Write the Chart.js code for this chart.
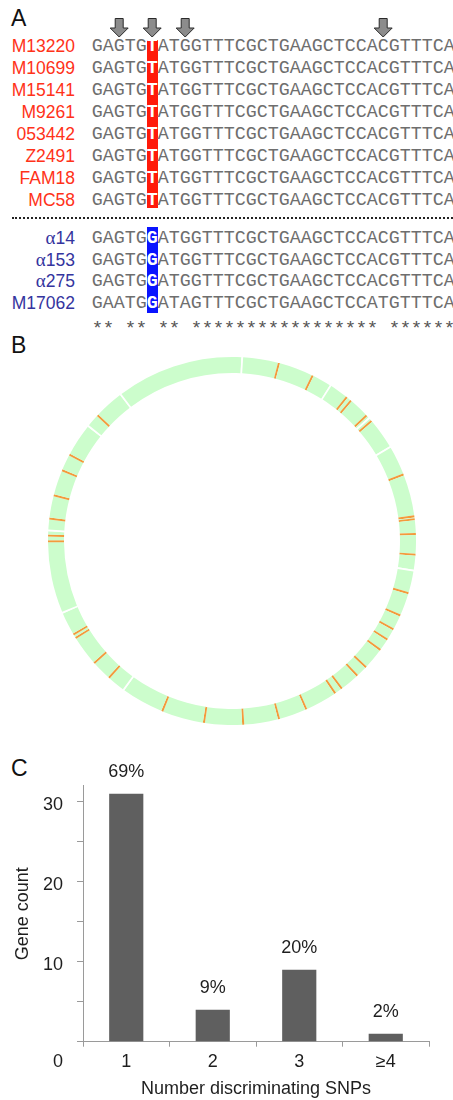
<!DOCTYPE html>
<html>
<head>
<meta charset="utf-8">
<script src="https://cdn.jsdelivr.net/npm/chart.js@4.4.1/dist/chart.umd.min.js"></script>
<style>
  html, body { margin: 0; padding: 0; background: #fff; }
  body { width: 453px; height: 1100px; position: relative; overflow: hidden;
         font-family: "Liberation Sans", Arial, sans-serif; }
  .panel-label { position: absolute; left: 11px; font-size: 23px; line-height: 1; color: #111; }
  .name { position: absolute; right: 378px; font-size: 17.5px; line-height: 22px; white-space: nowrap; }
  .name .greek { font-family: "Liberation Serif", "DejaVu Serif", serif; font-size: 19px; }
  .seq { position: absolute; left: 91.7px; font-family: "Liberation Mono", "Courier New", monospace;
         font-size: 18.33px; line-height: 22px; color: #6e6e6e; white-space: pre; }
  .seq b { color: #fff; }
  .stars { color: #555; top: 318px; font-size: 19px; letter-spacing: -0.4px; }
  .hl { position: absolute; width: 11px; }
  .dotted { position: absolute; left: 12px; right: 0; top: 217px; border-top: 2px dotted #222; }
  canvas { position: absolute; }
</style>
</head>
<body>
<div class="panel-label" style="top:7px">A</div>
<div class="panel-label" style="top:334px">B</div>
<div class="panel-label" style="top:757px">C</div>
<div id="align"></div>
<div class="dotted"></div>
<canvas id="ring" width="368" height="368" style="left:48px; top:357px"></canvas>
<canvas id="bars" width="453" height="370" style="left:0; top:730px"></canvas>

<script>
// ---- Panel A: alignment around the discriminating SNP ----
const redStrains = ['M13220', 'M10699', 'M15141', 'M9261', '053442', 'Z2491', 'FAM18', 'MC58'];
const redSeqs = [
  'GAGTGTATGGTTTCGCTGAAGCTCCACGTTTCA',
  'GAGTGTATGGTTTCGCTGAAGCTCCACGTTTCA',
  'GAGTGTATGGTTTCGCTGAAGCTCCACGTTTCA',
  'GAGTGTATGGTTTCGCTGAAGCTCCACGTTTCA',
  'GAGTGTATGGTTTCGCTGAAGCTCCACGTTTCA',
  'GAGTGTATGGTTTCGCTGAAGCTCCACGTTTCA',
  'GAGTGTATGGTTTCGCTGAAGCTCCACGTTTCA',
  'GAGTGTATGGTTTCGCTGAAGCTCCACGTTTCA'
];
const blueStrains = ['α14', 'α153', 'α275', 'M17062'];
const blueSeqs = [
  'GAGTGGATGGTTTCGCTGAAGCTCCACGTTTCA',
  'GAGTGGATGGTTTCGCTGAAGCTCCACGTTTCA',
  'GAGTGGATGGTTTCGCTGAAGCTCCACGTTTCA',
  'GAATGGATAGTTTCGCTGAAGCTCCATGTTTCA'
];
const snpColumn = 5;

// ---- Panel B: genome ring, positions in degrees clockwise from the origin ----
const snpAngles = [14.8, 26.0, 38.6, 40.3, 47.0, 49.3, 68.8, 82.3, 83.2, 87.8, 94.3, 106.5,
  113.9, 118.7, 122.4, 126.3, 133.3, 137.1, 143.4, 145.9, 156.2, 165.2, 176.5, 188.8,
  202.3, 222.0, 228.5, 238.2, 239.5, 269.9, 271.7, 277.0, 284.4, 292.6, 298.0, 313.1];
const breakAngles = [3.2, 32.4, 48.15, 59.3, 99.3, 216.1, 247.1, 273.3, 308.7, 322.8];

// ---- Panel C: genes by number of discriminating SNPs ----
const snpCategories = ['1', '2', '3', '≥4'];
const geneCounts = [31, 4, 9, 1];
const countTickLabels = [10, 20, 30];

const SANS = '"Liberation Sans", Arial, sans-serif';

/* ---------- alignment ---------- */
(function drawAlignment() {
  const host = document.getElementById('align');
  const CH = 11.0, X0 = 91.7;
  const allSeqs = redSeqs.concat(blueSeqs);
  const n = allSeqs[0].length;
  const conserved = [];
  for (let c = 0; c < n; c++) conserved.push(allSeqs.every(s => s[c] === allSeqs[0][c]));

  function addRow(name, seq, color, yc) {
    const nm = document.createElement('div');
    nm.className = 'name';
    nm.style.top = (yc - 11) + 'px';
    nm.style.color = color;
    nm.innerHTML = name.replace('α', '<span class="greek">α</span>');
    host.appendChild(nm);
    const sq = document.createElement('div');
    sq.className = 'seq';
    sq.style.top = (yc - 10) + 'px';
    sq.innerHTML = seq.slice(0, snpColumn) + '<b>' + seq[snpColumn] + '</b>' + seq.slice(snpColumn + 1);
    host.appendChild(sq);
  }
  function addBox(color, top, bottom) {
    const b = document.createElement('div');
    b.className = 'hl';
    b.style.left = (X0 + CH * snpColumn) + 'px';
    b.style.top = top + 'px';
    b.style.height = (bottom - top) + 'px';
    b.style.background = color;
    host.appendChild(b);
  }
  addBox('#ff1a0a', 39.5, 208);
  addBox('#0a14ff', 227, 312.5);
  redStrains.forEach((s, i) => addRow(s, redSeqs[i], '#ff3219', 46 + 22 * i));
  blueStrains.forEach((s, i) => addRow(s, blueSeqs[i], '#34349e', 238 + 21.6 * i));

  // conservation line: one star per identical column, same pitch as the sequences
  const stars = document.createElement('div');
  stars.className = 'seq stars';
  stars.style.letterSpacing = (CH - 0.6 * 19) + 'px';
  stars.textContent = conserved.map(c => c ? '*' : ' ').join('');
  host.appendChild(stars);

  // arrows over variable columns
  const svgNS = 'http://www.w3.org/2000/svg';
  const svg = document.createElementNS(svgNS, 'svg');
  svg.setAttribute('width', '453');
  svg.setAttribute('height', '40');
  svg.style.position = 'absolute';
  svg.style.left = '0';
  svg.style.top = '0';
  conserved.forEach((c, col) => {
    if (c) return;
    const cx = X0 + CH * (col + 0.5);
    const p = document.createElementNS(svgNS, 'polygon');
    p.setAttribute('points', [
      [cx - 4, 18.5], [cx + 4, 18.5], [cx + 4, 28], [cx + 9, 28], [cx, 37], [cx - 9, 28], [cx - 4, 28]
    ].map(q => q.join(',')).join(' '));
    p.setAttribute('fill', '#8c8c8c');
    p.setAttribute('stroke', '#2a2a2a');
    p.setAttribute('stroke-width', '1');
    svg.appendChild(p);
  });
  host.appendChild(svg);
})();

/* ---------- genome ring ---------- */
(function drawRing() {
  const GREEN = '#ccfdcc', ORANGE = '#f39a3c', WHITE = '#ffffff';
  const SNP_WIDTH = 0.65, BREAK_WIDTH = 0.55;
  const marks = snpAngles.map(a => ({ at: a, w: SNP_WIDTH, color: ORANGE }))
    .concat(breakAngles.map(a => ({ at: a, w: BREAK_WIDTH, color: WHITE })))
    .sort((p, q) => p.at - q.at);
  const arcSizes = [], arcColors = [];
  let cursor = 0;
  marks.forEach(m => {
    const start = m.at - m.w / 2;
    if (start > cursor) { arcSizes.push(start - cursor); arcColors.push(GREEN); }
    arcSizes.push(m.w); arcColors.push(m.color);
    cursor = m.at + m.w / 2;
  });
  if (cursor < 360) { arcSizes.push(360 - cursor); arcColors.push(GREEN); }

  new Chart(document.getElementById('ring'), {
    type: 'doughnut',
    data: { datasets: [{ data: arcSizes, backgroundColor: arcColors, borderWidth: 0 }] },
    options: {
      responsive: false, animation: false, events: [],
      cutout: '91.3%',
      layout: { padding: 0 },
      plugins: { legend: { display: false }, tooltip: { enabled: false } }
    }
  });
})();

/* ---------- bar chart ---------- */
(function drawBars() {
  const total = geneCounts.reduce((a, b) => a + b, 0);
  const AXIS = '#9a9a9a', TEXT = '#1e1e1e';

  const annotate = {
    id: 'annotate',
    afterDatasetsDraw(chart) {
      const ctx = chart.ctx;
      ctx.save();
      ctx.font = '18px ' + SANS;
      ctx.fillStyle = TEXT;
      ctx.textAlign = 'center';
      ctx.textBaseline = 'middle';
      chart.getDatasetMeta(0).data.forEach((bar, i) => {
        const pct = Math.round(geneCounts[i] / total * 100) + '%';
        ctx.fillText(pct, bar.x, bar.y - 22);
      });
      // origin label sits on the category-label line
      const ys = chart.scales.y, xs = chart.scales.x;
      ctx.textAlign = 'right';
      ctx.fillText('0', ys.right - 6 - 14, xs.top + 5 + 5 + 10.8);
      ctx.restore();
    }
  };

  new Chart(document.getElementById('bars'), {
    type: 'bar',
    data: {
      labels: snpCategories,
      datasets: [{ data: geneCounts, backgroundColor: '#5f5f5f', borderWidth: 0,
                   categoryPercentage: 1, barPercentage: 0.395 }]
    },
    options: {
      responsive: false, animation: false, events: [],
      layout: { padding: { top: 55.7, right: 24, left: 0, bottom: 0 } },
      plugins: { legend: { display: false }, tooltip: { enabled: false } },
      scales: {
        x: {
          grid: { drawOnChartArea: false, tickLength: 5, offset: true,
                  color: c => (c.index === snpCategories.length ? 'rgba(0,0,0,0)' : AXIS) },
          border: { color: AXIS, width: 1 },
          ticks: { color: TEXT, font: { size: 18, family: SANS }, padding: 5 },
          title: { display: true, text: 'Number discriminating SNPs', color: TEXT,
                   font: { size: 18, family: SANS }, padding: { top: 0, bottom: 0 } },
          afterFit(s) { s.height = 58.3; }
        },
        y: {
          min: 0, max: 32,
          ticks: { stepSize: 5, includeBounds: false, padding: 14, labelOffset: 3,
                   color: TEXT, font: { size: 18, family: SANS },
                   callback: v => (countTickLabels.includes(v) ? String(v) : '') },
          grid: { drawOnChartArea: false, tickLength: 6, color: AXIS },
          border: { color: AXIS, width: 1 },
          title: { display: true, text: 'Gene count', color: TEXT,
                   font: { size: 18, family: SANS }, padding: { top: 12, bottom: 0 } },
          afterFit(s) { s.width = 83; }
        }
      }
    },
    plugins: [annotate]
  });
})();
</script>
</body>
</html>
